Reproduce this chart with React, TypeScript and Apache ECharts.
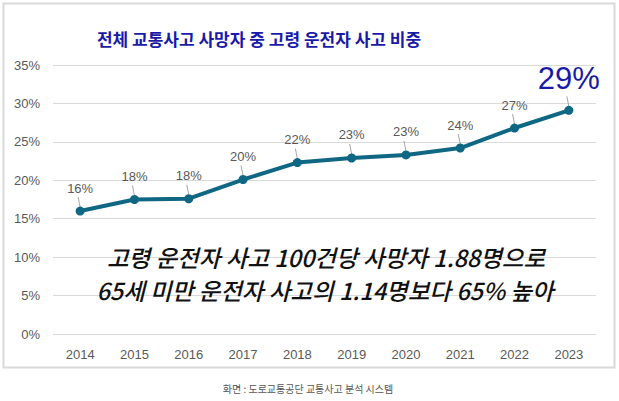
import React, { useEffect, useRef } from "react";
import * as echarts from "echarts";

const years = ["2014", "2015", "2016", "2017", "2018", "2019", "2020", "2021", "2022", "2023"];
const shares = [16.0, 17.5, 17.6, 20.1, 22.3, 22.9, 23.3, 24.2, 26.8, 29.1];
const shareLabels = ["16%", "18%", "18%", "20%", "22%", "23%", "23%", "24%", "27%", "29%"];
const titleText = "전체 교통사고 사망자 중 고령 운전자 사고 비중";
const noteLine1 = "고령 운전자 사고 100건당 사망자 1.88명으로";
const noteLine2 = "65세 미만 운전자 사고의 1.14명보다 65% 높아";
const sourceText = "화면 : 도로교통공단 교통사고 분석 시스템";

const LINE_COLOR = "#0f6783";
const LABEL_GRAY = "#595959";
const BLUE = "#1a1aa8";
const KFONT = "'Noto Sans CJK KR', 'Noto Sans', sans-serif";
const LFONT = "'Liberation Sans', Arial, sans-serif";

export default function App() {
  const ref = useRef<HTMLDivElement>(null);
  useEffect(() => {
    if (!ref.current) return;
    const chart = echarts.init(ref.current, undefined, { renderer: "svg" });
    const last = shares.length - 1;
    const lineData = shares.map((v, i) =>
      i === last
        ? {
            value: v,
            label: {
              fontSize: 31,
              color: BLUE,
              fontFamily: LFONT,
              distance: 12,
            },
          }
        : { value: v }
    );
    chart.setOption({
      animation: false,
      backgroundColor: "#ffffff",
      grid: { left: 53, right: 23, top: 65, bottom: 67 },
      graphic: [
        {
          type: "rect",
          shape: { x: 3.5, y: 3.5, width: 611, height: 364 },
          style: { fill: "none", stroke: "#d9d9d9", lineWidth: 2 },
          z: -1,
        },
        {
          type: "text",
          x: 259,
          y: 38,
          style: {
            text: titleText,
            font: `bold 17px ${KFONT}`,
            fill: BLUE,
            align: "center",
            verticalAlign: "middle",
          },
        },
        {
          type: "text",
          x: 326,
          y: 257,
          z: 10,
          style: {
            text: noteLine1,
            font: `italic 500 23.5px ${KFONT}`,
            fill: "#111111",
            align: "center",
            verticalAlign: "middle",
          },
        },
        {
          type: "text",
          x: 325,
          y: 290,
          z: 10,
          style: {
            text: noteLine2,
            font: `italic 500 23.5px ${KFONT}`,
            fill: "#111111",
            align: "center",
            verticalAlign: "middle",
          },
        },
        {
          type: "text",
          x: 308,
          y: 388,
          style: {
            text: sourceText,
            font: `10px ${KFONT}`,
            fill: "#555555",
            align: "center",
            verticalAlign: "middle",
          },
        },
      ],
      xAxis: {
        type: "category",
        data: years,
        boundaryGap: true,
        axisLine: { show: false },
        axisTick: { show: false },
        axisLabel: { color: LABEL_GRAY, fontSize: 13, fontFamily: LFONT, margin: 14 },
      },
      yAxis: {
        type: "value",
        min: 0,
        max: 35,
        interval: 5,
        axisLine: { show: false },
        axisTick: { show: false },
        axisLabel: {
          color: LABEL_GRAY,
          fontSize: 13,
          fontFamily: LFONT,
          margin: 13,
          formatter: "{value}%",
        },
        splitLine: { lineStyle: { color: "#d9d9d9", width: 1 } },
      },
      series: [
        {
          type: "line",
          data: lineData,
          symbol: "circle",
          symbolSize: 9,
          lineStyle: { color: LINE_COLOR, width: 4 },
          itemStyle: { color: LINE_COLOR },
          z: 3,
          label: {
            show: true,
            position: "top",
            distance: 12,
            color: LABEL_GRAY,
            fontSize: 13,
            fontFamily: LFONT,
            formatter: (p: any) => shareLabels[p.dataIndex],
          },
        },
        {
          type: "custom",
          data: shares.map((v, i) => [i, v]),
          z: 2,
          silent: true,
          renderItem: (params: any, api: any) => {
            const pt = api.coord([api.value(0), api.value(1)]);
            return {
              type: "line",
              shape: { x1: pt[0], y1: pt[1] - 4, x2: pt[0] - 2, y2: pt[1] - 14 },
              style: { stroke: "#a6a6a6", lineWidth: 1 },
            };
          },
        },
      ],
    });
    return () => chart.dispose();
  }, []);
  return (
    <div
      ref={ref}
      style={{ position: "fixed", left: 0, top: 0, width: 619, height: 401 }}
    />
  );
}
